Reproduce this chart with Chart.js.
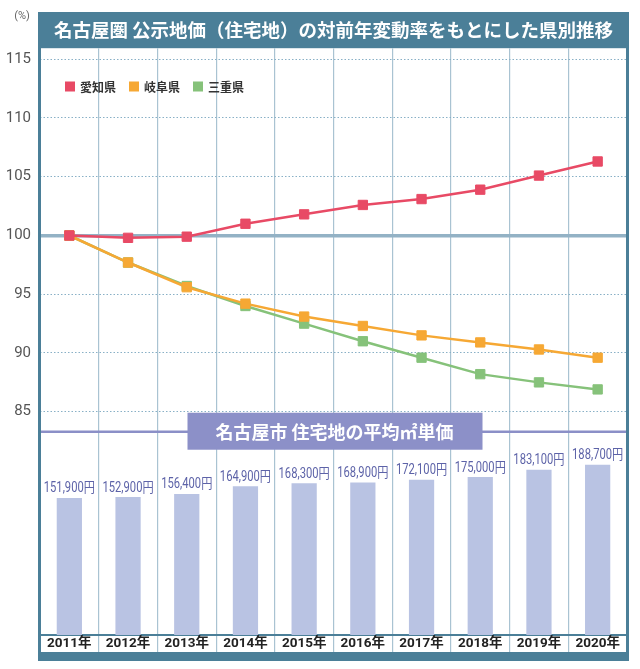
<!DOCTYPE html>
<html>
<head>
<meta charset="utf-8">
<script src="https://cdn.jsdelivr.net/npm/chart.js@4.4.1/dist/chart.umd.min.js"></script>
<style>
  html, body { margin: 0; padding: 0; background: #fff; }
  #wrap { width: 640px; height: 669px; }
</style>
</head>
<body>
<div id="wrap"><canvas id="landChart"></canvas></div>
<script>
// data
const years = ["2011年", "2012年", "2013年", "2014年", "2015年", "2016年", "2017年", "2018年", "2019年", "2020年"];
const prefectures = ["愛知県", "岐阜県", "三重県"];
const aichi = [100, 99.8, 99.9, 101.0, 101.8, 102.6, 103.1, 103.9, 105.1, 106.3];
const gifu  = [100, 97.7, 95.6, 94.2, 93.1, 92.3, 91.5, 90.9, 90.3, 89.6];
const mie   = [100, 97.7, 95.7, 94.0, 92.5, 91.0, 89.6, 88.2, 87.5, 86.9];
const nagoyaPrice = [151900, 152900, 156400, 164900, 168300, 168900, 172100, 175000, 183100, 188700];
const rateTicks = [85, 90, 95, 100, 105, 110, 115];

const frameColor = '#4b7f98';
const lineColors = ['#e84a65', '#f6a834', '#86c27a'];
const cjk = '"Noto Sans CJK JP", sans-serif';
const num = 'Roboto, "Noto Sans CJK JP", sans-serif';

function lineSet(i, values) {
  return {
    type: 'line',
    label: prefectures[i],
    data: values,
    yAxisID: 'yLine',
    borderColor: lineColors[i],
    backgroundColor: lineColors[i],
    borderWidth: 2.5,
    pointStyle: 'rect',
    pointRadius: 6.6,
    pointBorderWidth: 1,
    tension: 0
  };
}

const deco = {
  id: 'deco',
  beforeDraw(chart) {
    const { ctx, chartArea: a } = chart;
    const t = chart.titleBlock;
    ctx.save();
    ctx.fillStyle = '#fff';
    ctx.fillRect(0, 0, chart.width, chart.height);
    ctx.fillStyle = frameColor;
    ctx.fillRect(a.left - 2, t.top, a.right - a.left + 4, t.bottom - t.top);
    ctx.fillStyle = '#666';
    ctx.font = '11px ' + num;
    ctx.textAlign = 'center';
    ctx.textBaseline = 'middle';
    ctx.fillText('(%)', 22, 16);
    ctx.restore();
  },
  afterDraw(chart) {
    const { ctx, chartArea: a, scales } = chart;
    const split = scales.yLine.bottom;
    ctx.save();

    // divider between the two panels
    ctx.strokeStyle = '#8b8fc7';
    ctx.lineWidth = 2.5;
    ctx.beginPath();
    ctx.moveTo(a.left, split);
    ctx.lineTo(a.right, split);
    ctx.stroke();

    // panel caption
    const cx = (a.left + a.right) / 2 + 1;
    ctx.fillStyle = '#8c90c8';
    ctx.fillRect(cx - 147, split - 19, 295, 37);
    ctx.fillStyle = '#fff';
    ctx.font = 'bold 18px ' + cjk;
    ctx.textAlign = 'center';
    ctx.textBaseline = 'middle';
    ctx.fillText('名古屋市 住宅地の平均㎡単価', cx, split);

    // price labels over the bars (narrowed like the original type)
    const barMeta = chart.getDatasetMeta(3);
    ctx.fillStyle = '#5d63a8';
    ctx.font = '14px ' + num;
    barMeta.data.forEach((bar, i) => {
      ctx.save();
      ctx.translate(bar.x, bar.y - 9);
      ctx.scale(0.8, 1);
      ctx.fillText(nagoyaPrice[i].toLocaleString('ja-JP') + '円', 0, 0);
      ctx.restore();
    });

    // legend
    let lx = a.left + 25;
    const ly = 86.5;
    ctx.font = 'bold 12px ' + cjk;
    ctx.textAlign = 'left';
    prefectures.forEach((name, i) => {
      ctx.fillStyle = lineColors[i];
      ctx.fillRect(lx, ly - 5, 10, 10);
      ctx.fillStyle = '#333';
      ctx.fillText(name, lx + 15, ly + 0.5);
      lx += 15 + ctx.measureText(name).width + 13;
    });

    // frame
    const top = chart.titleBlock.bottom - 1;
    ctx.fillStyle = frameColor;
    ctx.fillRect(a.left - 2, top, 3, 661 - top);
    ctx.fillRect(a.right - 1, top, 3, 661 - top);
    ctx.fillRect(a.left - 2, 652, a.right - a.left + 4, 9);
    ctx.restore();
  }
};

new Chart(document.getElementById('landChart'), {
  type: 'bar',
  data: {
    labels: years,
    datasets: [
      lineSet(0, aichi),
      lineSet(1, gifu),
      lineSet(2, mie),
      {
        type: 'bar',
        label: '名古屋市 住宅地の平均㎡単価',
        data: nagoyaPrice,
        yAxisID: 'yBar',
        backgroundColor: '#b9c3e3',
        barPercentage: 0.43,
        categoryPercentage: 1
      }
    ]
  },
  plugins: [deco],
  options: {
    responsive: true,
    maintainAspectRatio: false,
    animation: false,
    layout: { padding: { left: 0, right: 13, top: 12, bottom: 17 } },
    plugins: {
      legend: { display: false },
      tooltip: { enabled: false },
      title: {
        display: true,
        fullSize: false,
        text: '名古屋圏 公示地価（住宅地）の対前年変動率をもとにした県別推移',
        color: '#fff',
        font: { family: cjk, size: 18.5, weight: 'bold', lineHeight: 1.2 },
        padding: { top: 7, bottom: 7 }
      }
    },
    scales: {
      x: {
        grid: { offset: true, color: '#a9c3d2', lineWidth: 1.2, tickLength: 17 },
        border: { display: true, color: frameColor, width: 2 },
        ticks: {
          color: '#222',
          font: { family: num, size: 13.5, weight: 'bold' },
          padding: -16,
          maxRotation: 0
        },
        afterFit(s) { s.height = 17; }
      },
      yBar: {
        position: 'left',
        stack: 'panels',
        stackWeight: 203,
        min: 0,
        max: 225300,
        grid: { display: false },
        border: { display: false },
        ticks: { display: false },
        afterFit(s) { s.width = 40; }
      },
      yLine: {
        position: 'left',
        stack: 'panels',
        stackWeight: 383,
        min: 83.3,
        max: 115.94,
        afterBuildTicks(s) { s.ticks = rateTicks.map(v => ({ value: v })); },
        grid: {
          drawTicks: false,
          color: c => c.tick && c.tick.value === 100 ? '#93b2c5' : '#89b0c6',
          lineWidth: c => c.tick && c.tick.value === 100 ? 3.5 : 1
        },
        border: {
          display: false,
          dash: c => c.tick && c.tick.value === 100 ? [] : [1.5, 2]
        },
        ticks: {
          color: '#555',
          font: { family: num, size: 15 },
          padding: 9
        },
        afterFit(s) { s.width = 40; }
      }
    }
  }
});
</script>
</body>
</html>
